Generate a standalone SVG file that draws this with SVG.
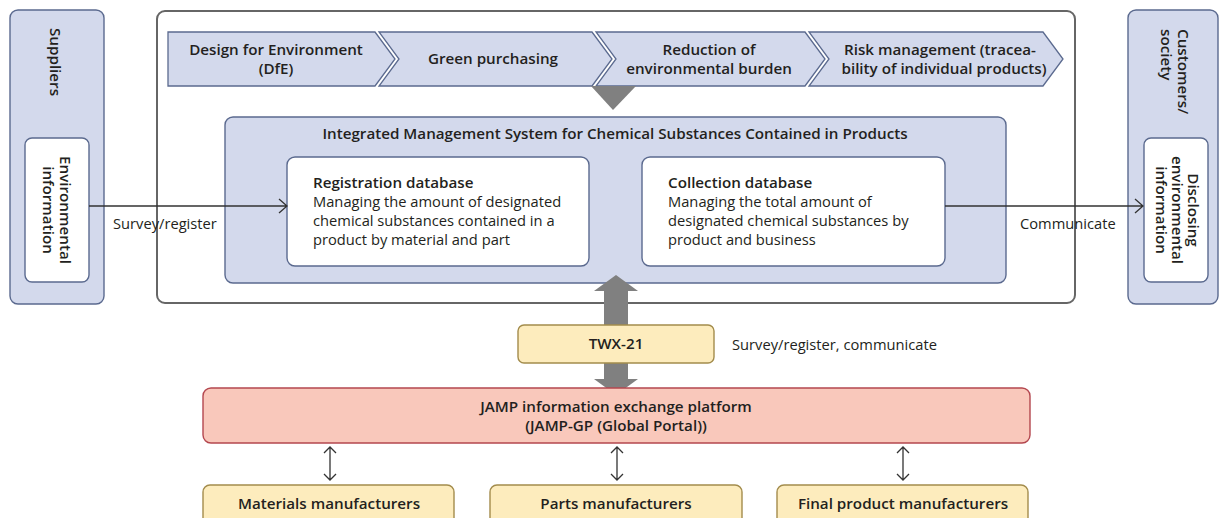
<svg xmlns="http://www.w3.org/2000/svg" width="1219" height="518" viewBox="0 0 1219 518">
<style>
text{font-family:"Open Sans","Liberation Sans",sans-serif;fill:#231f20;font-size:14.7px}
.b{font-weight:600;font-size:15.2px}
.blue{fill:#d3d9ec;stroke:#5b6a8f;stroke-width:1.4}
.wbox{fill:#ffffff;stroke:#5b6a8f;stroke-width:1.4}
.yel{fill:#fdecbd;stroke:#a38c4c;stroke-width:1.4}
.red{fill:#f9c8bb;stroke:#b4474f;stroke-width:1.4}
.chev{fill:#d3d9ec;stroke:#5b6a8f;stroke-width:1.3}
.ln{fill:none;stroke:#333;stroke-width:1.3}
.gray{fill:#808080}
.m{text-anchor:middle}
</style>
<g id="suppliers">
<rect class="blue" x="10" y="10" width="94" height="294" rx="8"/>
<text class="b m" transform="translate(50,62) rotate(90)" x="0" y="0">Suppliers</text>
</g>
<g id="env-info">
<rect class="wbox" x="25" y="138" width="64" height="144" rx="7"/>
<text class="b m" transform="translate(57,210) rotate(90)"><tspan x="0" y="-3">Environmental</tspan><tspan x="0" y="14">information</tspan></text>
</g>
<g id="main-frame">
<rect x="157" y="11" width="918" height="292" rx="8" fill="none" stroke="#666" stroke-width="2"/>
</g>
<g id="chevron-dfe">
<polygon class="chev" points="168,32 375,32 395,59 375,86 168,86"/>
<text class="b m"><tspan x="276" y="55">Design for Environment</tspan><tspan x="276" y="74">(DfE)</tspan></text>
</g>
<g id="chevron-green">
<polygon class="chev" points="379,32 592,32 612,59 592,86 379,86 399,59"/>
<text class="b m" x="493" y="64">Green purchasing</text>
</g>
<g id="chevron-reduction">
<polygon class="chev" points="596,32 805,32 825,59 805,86 596,86 616,59"/>
<text class="b m"><tspan x="709" y="55">Reduction of</tspan><tspan x="709" y="74">environmental burden</tspan></text>
</g>
<g id="chevron-risk">
<polygon class="chev" points="809,32 1043,32 1063,59 1043,86 809,86 829,59"/>
<text class="b m"><tspan x="940" y="55">Risk management (tracea-</tspan><tspan x="944" y="74">bility of individual products)</tspan></text>
</g>
<g id="down-triangle">
<polygon class="gray" points="591,86 636,86 613,110"/>
</g>
<g id="integrated-system">
<rect class="blue" x="225" y="117" width="781" height="166" rx="8"/>
<text class="b m" x="615" y="139">Integrated Management System for Chemical Substances Contained in Products</text>
</g>
<g id="registration-db">
<rect class="wbox" x="287" y="157" width="302" height="109" rx="8"/>
<text x="313"><tspan class="b" x="313" y="188">Registration database</tspan><tspan x="313" y="207">Managing the amount of designated</tspan><tspan x="313" y="226">chemical substances contained in a</tspan><tspan x="313" y="245">product by material and part</tspan></text>
</g>
<g id="collection-db">
<rect class="wbox" x="642" y="157" width="303" height="109" rx="8"/>
<text x="668"><tspan class="b" x="668" y="188">Collection database</tspan><tspan x="668" y="207">Managing the total amount of</tspan><tspan x="668" y="226">designated chemical substances by</tspan><tspan x="668" y="245">product and business</tspan></text>
</g>
<g id="customers">
<rect class="blue" x="1128" y="10" width="90" height="294" rx="8"/>
<text class="b" transform="translate(1128,29) rotate(90)"><tspan x="0" y="-50">Customers/</tspan><tspan x="0" y="-33">society</tspan></text>
</g>
<g id="disclosing">
<rect class="wbox" x="1144" y="138" width="64" height="144" rx="7"/>
<text class="b m" transform="translate(1176,210) rotate(90)"><tspan x="0" y="-12">Disclosing</tspan><tspan x="0" y="4">environmental</tspan><tspan x="0" y="20">information</tspan></text>
</g>
<g id="twx21">
<polygon class="gray" points="616,275 638,291 628,291 628,379 638,379 616,395 594,379 604,379 604,291 594,291"/>
<rect class="yel" x="518" y="325" width="196" height="38" rx="6"/>
<text class="b m" x="616" y="349">TWX-21</text>
</g>
<g id="jamp">
<rect class="red" x="203" y="388" width="827" height="55" rx="8"/>
<text class="b m" x="616" y="412">JAMP information exchange platform</text>
<text class="b m" x="616" y="431">(JAMP-GP (Global Portal))</text>
</g>
<g id="materials">
<rect class="yel" x="203" y="485" width="251" height="40" rx="7"/>
<text class="b m" x="329" y="509">Materials manufacturers</text>
</g>
<g id="parts">
<rect class="yel" x="490" y="485" width="252" height="40" rx="7"/>
<text class="b m" x="616" y="509">Parts manufacturers</text>
</g>
<g id="final">
<rect class="yel" x="777" y="485" width="251" height="40" rx="7"/>
<text class="b m" x="903" y="509">Final product manufacturers</text>
</g>
<g id="connectors">
<path class="ln" d="M89,206 H287 M279,199 L287,206 L279,213"/>
<text x="113" y="229">Survey/register</text>
<path class="ln" d="M945,206 H1143 M1135,199 L1143,206 L1135,213"/>
<text x="1020" y="229">Communicate</text>
<text x="732" y="350">Survey/register, communicate</text>
<path class="ln" d="M330,447 V480 M324,453 L330,447 L336,453 M324,474 L330,480 L336,474"/>
<path class="ln" d="M617,447 V480 M611,453 L617,447 L623,453 M611,474 L617,480 L623,474"/>
<path class="ln" d="M903,447 V480 M897,453 L903,447 L909,453 M897,474 L903,480 L909,474"/>
</g>
</svg>
